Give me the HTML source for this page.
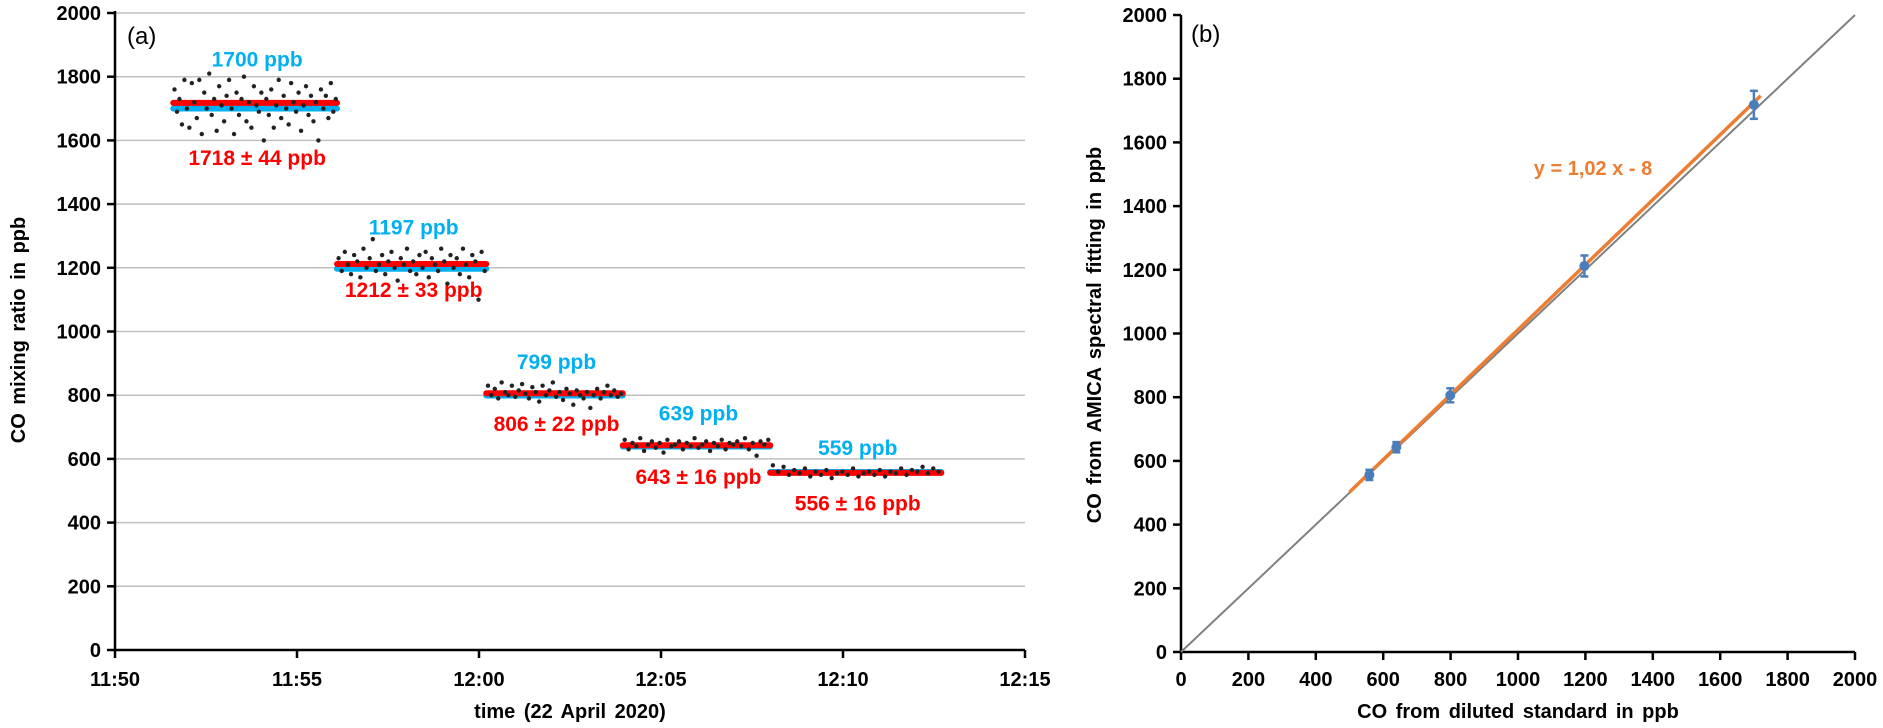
<!DOCTYPE html>
<html><head><meta charset="utf-8"><style>
html,body{margin:0;padding:0;background:#fff}
svg{display:block}
text{font-family:"Liberation Sans",Arial,sans-serif}
</style></head><body>
<svg id="c" width="1883" height="728" viewBox="0 0 1883 728" xmlns="http://www.w3.org/2000/svg">
<g id="A"></g>
<g id="B"></g>
</svg>
<script>
// ---------- Panel (a) data ----------
const segStart = [1.6, 6.1, 10.2, 13.95, 18.0];     // minutes after 11:50
const segEnd   = [6.1, 10.2, 13.95, 18.0, 22.7];
const refValue = [1700, 1197, 799, 639, 559];       // blue
const fitValue = [1718, 1212, 806, 643, 556];       // red
const fitStd   = [44, 33, 22, 16, 16];
const refLabelAt = [1857, 1330, 908, 746, 637];     // label anchor (ppb)
const fitLabelAt = [1548, 1134, 712, 546, 463];
const seg1 = [1760,1690,1730,1650,1790,1700,1640,1780,1720,1670,1790,1620,1750,1700,1810,1680,1730,1630,1770,1710,1660,1740,1790,1700,1620,1750,1680,1730,1800,1660,1720,1640,1770,1710,1690,1750,1600,1730,1680,1760,1640,1710,1790,1670,1740,1700,1650,1780,1720,1690,1750,1630,1710,1770,1680,1740,1660,1720,1600,1760,1700,1740,1670,1780,1690,1730];
const seg2 = [1230,1190,1250,1210,1180,1240,1220,1170,1260,1200,1230,1290,1190,1210,1240,1180,1220,1250,1200,1160,1230,1210,1260,1190,1220,1180,1240,1200,1250,1170,1230,1210,1190,1260,1220,1150,1240,1200,1230,1180,1260,1210,1170,1240,1220,1100,1250,1190];
const seg3 = [830,800,820,790,840,810,800,830,795,815,835,805,790,825,810,780,830,800,815,840,795,810,785,820,805,770,815,800,790,810,760,800,820,790,810,830,800,815,795,805];
const seg4 = [660,630,650,640,665,625,645,655,635,650,620,660,640,645,655,630,650,640,665,635,645,655,625,650,640,660,630,650,645,655,640,665,630,650,610,655,645,660];
const seg5 = [580,560,575,550,565,555,570,545,560,550,565,540,555,560,550,570,545,555,560,550,565,545,560,555,570,550,565,560,575,555,570,560];
const segPts = [seg1, seg2, seg3, seg4, seg5];
const timeTicks = ["11:50","11:55","12:00","12:05","12:10","12:15"];
const yTicksA = [0,200,400,600,800,1000,1200,1400,1600,1800,2000];

// ---------- Panel (b) data ----------
const stdValues = [559, 639, 799, 1197, 1700];
const amicaValues = [556, 643, 806, 1212, 1718];
const amicaErr = [16, 16, 22, 33, 44];
const fitSlope = 1.02, fitIntercept = -8;
const fitRange = [500, 1720];
const xTicksB = [0,200,400,600,800,1000,1200,1400,1600,1800,2000];
const yTicksB = [0,200,400,600,800,1000,1200,1400,1600,1800,2000];

const NS = "http://www.w3.org/2000/svg";
function mk(parent, tag, attrs, txt){
  const e = document.createElementNS(NS, tag);
  for (const k in attrs) e.setAttribute(k, attrs[k]);
  if (txt !== undefined) e.textContent = txt;
  parent.appendChild(e); return e;
}
const A = document.getElementById('A'), B = document.getElementById('B');

const ax0 = 115, ax1 = 1025, ay0 = 650, ay1 = 13;
const xA = m => ax0 + (ax1 - ax0) * m / 25;
const yA = v => ay0 - (ay0 - ay1) * v / 2000;

yTicksA.forEach(v => {
  if (v > 0) {
    const g = mk(A, 'line', {x1: ax0, x2: ax1, y1: yA(v), y2: yA(v), stroke: '#c0c0c0', 'stroke-width': 1.5});
    
    
  }
  const t = mk(A, 'line', {x1: ax0 - 8, x2: ax0, y1: yA(v), y2: yA(v), stroke: '#000', 'stroke-width': 2.5});
  
  
  const l = mk(A, 'text', {x: ax0 - 14, y: yA(v) + 7, 'text-anchor': 'end', 'font-size': 20, 'font-weight': 'bold'}, v);
  
  
});
timeTicks.forEach((s, i) => {
  const x = xA(i * 5);
  const t = mk(A, 'line', {x1: x, x2: x, y1: ay0, y2: ay0 + 8, stroke: '#000', 'stroke-width': 2.5});
  
  
  const l = mk(A, 'text', {x: x, y: 686, 'text-anchor': 'middle', 'font-size': 20, 'font-weight': 'bold'}, s);
  
  
});
let e;
e = mk(A, 'line', {x1: ax0, x2: ax0, y1: ay1 - 2, y2: ay0, stroke: '#000', 'stroke-width': 2.5});
 
e = mk(A, 'line', {x1: ax0, x2: ax1, y1: ay0, y2: ay0, stroke: '#000', 'stroke-width': 2.5});
 
e = mk(A, 'text', {x: 127, y: 44, 'font-size': 24}, '(a)');
 
e = mk(A, 'text', {x: 570, y: 718, 'text-anchor': 'middle', 'font-size': 20, 'font-weight': 'bold', 'word-spacing': 3}, 'time (22 April 2020)');
 
e = mk(A, 'text', {x: 0, y: 0, transform: 'translate(25,330) rotate(-90)', 'text-anchor': 'middle', 'font-size': 20, 'font-weight': 'bold', 'word-spacing': 3}, 'CO mixing ratio in ppb');
 

const blue = '#00b0f0', red = '#ff0000';
segPts.forEach((pts, s) => {
  const x0 = xA(segStart[s]), x1 = xA(segEnd[s]);
  e = mk(A, 'line', {x1: x0, x2: x1, y1: yA(refValue[s]), y2: yA(refValue[s]), stroke: blue, 'stroke-width': 6, 'stroke-linecap': 'round'});
   
  e = mk(A, 'line', {x1: x0, x2: x1, y1: yA(fitValue[s]), y2: yA(fitValue[s]), stroke: red, 'stroke-width': 6, 'stroke-linecap': 'round'});
   
  pts.forEach((v, i) => {
    const m = segStart[s] + (segEnd[s] - segStart[s]) * (i + 0.5) / pts.length;
    const d = mk(A, 'circle', {cx: xA(m), cy: yA(v), r: 2.2, fill: '#222'});
    
    
  });
  const cx = (x0 + x1) / 2;
  e = mk(A, 'text', {x: cx + 2, y: yA(refLabelAt[s]) + 8, 'text-anchor': 'middle', 'font-size': 21, 'font-weight': 'bold', fill: blue}, refValue[s] + ' ppb');
   
  e = mk(A, 'text', {x: cx + 2, y: yA(fitLabelAt[s]) + 8, 'text-anchor': 'middle', 'font-size': 21, 'font-weight': 'bold', fill: red}, fitValue[s] + ' \u00b1 ' + fitStd[s] + ' ppb');
   
});

const bx0 = 1181, bx1 = 1855, by0 = 652, by1 = 15;
const xB = v => bx0 + (bx1 - bx0) * v / 2000;
const yB = v => by0 - (by0 - by1) * v / 2000;
xTicksB.forEach(v => {
  e = mk(B, 'line', {x1: xB(v), x2: xB(v), y1: by0, y2: by0 + 8, stroke: '#000', 'stroke-width': 2.5});
   
  e = mk(B, 'text', {x: xB(v), y: 686, 'text-anchor': 'middle', 'font-size': 20, 'font-weight': 'bold'}, v);
   
});
yTicksB.forEach(v => {
  e = mk(B, 'line', {x1: bx0 - 8, x2: bx0, y1: yB(v), y2: yB(v), stroke: '#000', 'stroke-width': 2.5});
   
  e = mk(B, 'text', {x: bx0 - 14, y: yB(v) + 7, 'text-anchor': 'end', 'font-size': 20, 'font-weight': 'bold'}, v);
   
});
e = mk(B, 'line', {x1: bx0, x2: bx0, y1: by1, y2: by0, stroke: '#000', 'stroke-width': 2.5});
 
e = mk(B, 'line', {x1: bx0, x2: bx1, y1: by0, y2: by0, stroke: '#000', 'stroke-width': 2.5});
 
e = mk(B, 'text', {x: 1191, y: 42, 'font-size': 24}, '(b)');
 
e = mk(B, 'text', {x: 1518, y: 718, 'text-anchor': 'middle', 'font-size': 20, 'font-weight': 'bold', 'word-spacing': 3}, 'CO from diluted standard in ppb');
 
e = mk(B, 'text', {x: 0, y: 0, transform: 'translate(1101,335) rotate(-90)', 'text-anchor': 'middle', 'font-size': 20, 'font-weight': 'bold', 'word-spacing': 3}, 'CO from AMICA spectral fitting in ppb');
 

e = mk(B, 'line', {x1: xB(0), y1: yB(0), x2: xB(2000), y2: yB(2000), stroke: '#808080', 'stroke-width': 2});
 
e = mk(B, 'line', {x1: xB(fitRange[0]), y1: yB(fitSlope * fitRange[0] + fitIntercept), x2: xB(fitRange[1]), y2: yB(fitSlope * fitRange[1] + fitIntercept), stroke: '#ed7d31', 'stroke-width': 3.5});
 
stdValues.forEach((xv, i) => {
  const cx = xB(xv), y = amicaValues[i], er = amicaErr[i];
  e = mk(B, 'line', {x1: cx, x2: cx, y1: yB(y - er), y2: yB(y + er), stroke: '#4a7ebb', 'stroke-width': 2.5});
   
  [y - er, y + er].forEach(c => {
    const cap = mk(B, 'line', {x1: cx - 4, x2: cx + 4, y1: yB(c), y2: yB(c), stroke: '#4a7ebb', 'stroke-width': 2.5});
    
    
  });
  e = mk(B, 'circle', {cx: cx, cy: yB(y), r: 5, fill: '#4a7ebb'});
   
});
e = mk(B, 'text', {x: 1593, y: 175, 'text-anchor': 'middle', 'font-size': 20, 'font-weight': 'bold', fill: '#ed7d31'}, 'y = 1,02 x - 8');
 
</script>
</body></html>
